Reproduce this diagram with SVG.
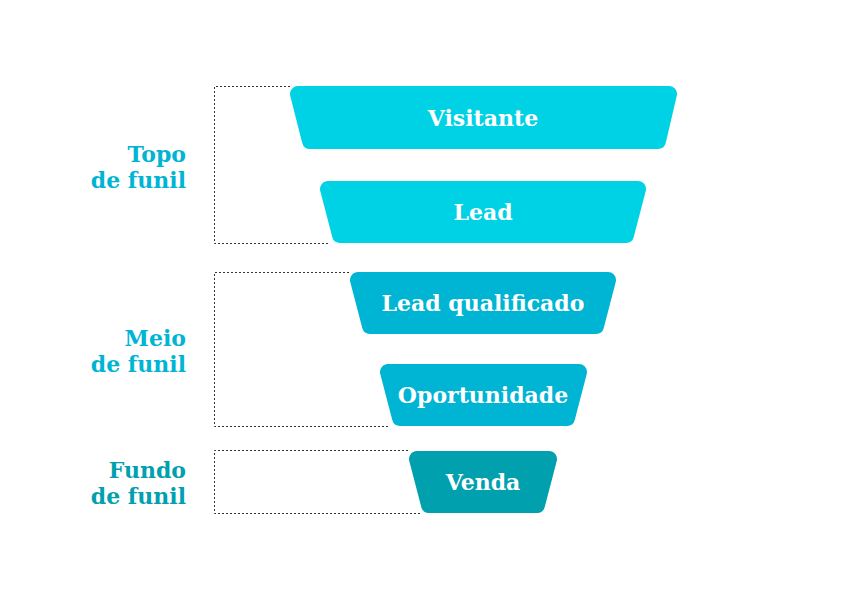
<svg xmlns="http://www.w3.org/2000/svg" width="844" height="600" viewBox="0 0 844 600">
<style>
.s{stroke-width:16;stroke-linejoin:round}
.a{fill:#00D2E6;stroke:#00D2E6}
.b{fill:#00B4D4;stroke:#00B4D4}
.c{fill:#00A0AE;stroke:#00A0AE}
.t{font-family:"DejaVu Serif",serif;font-weight:bold;font-size:22px;fill:#fff;text-anchor:middle}
.l{font-family:"DejaVu Serif",serif;font-weight:bold;font-size:22px;text-anchor:end}
.d{fill:none;stroke:#333;stroke-width:1;stroke-dasharray:2 2}
</style>
<rect width="844" height="600" fill="#fff"/>
<g id="connectors">
<path class="d" d="M290 86.5H214.5V243.5H330"/>
<path class="d" d="M349 272.5H214.5V426.5H390"/>
<path class="d" d="M408 450.5H214.5V513.5H420"/>
</g>
<g id="visitante"><polygon class="s a" points="298,94 669,94 658,141 310,141"/><text class="t" x="483" y="126">Visitante</text></g>
<g id="lead"><polygon class="s a" points="328,189 638,189 626,235 340,235"/><text class="t" x="483" y="220">Lead</text></g>
<g id="lead-qualificado"><polygon class="s b" points="358,280 608,280 596,326 370,326"/><text class="t" x="483" y="311">Lead qualificado</text></g>
<g id="oportunidade"><polygon class="s b" points="388,372 579,372 567,418 400,418"/><text class="t" x="483" y="403">Oportunidade</text></g>
<g id="venda"><polygon class="s c" points="417,459 549,459 537,505 429,505"/><text class="t" x="483" y="490">Venda</text></g>
<g id="labels">
<text class="l" x="186" y="162" fill="#00B4D4">Topo</text>
<text class="l" x="186" y="188" fill="#00B4D4">de funil</text>
<text class="l" x="186" y="346" fill="#00B4D4">Meio</text>
<text class="l" x="186" y="372" fill="#00B4D4">de funil</text>
<text class="l" x="186" y="478" fill="#00A0AE">Fundo</text>
<text class="l" x="186" y="504" fill="#00A0AE">de funil</text>
</g>
</svg>
